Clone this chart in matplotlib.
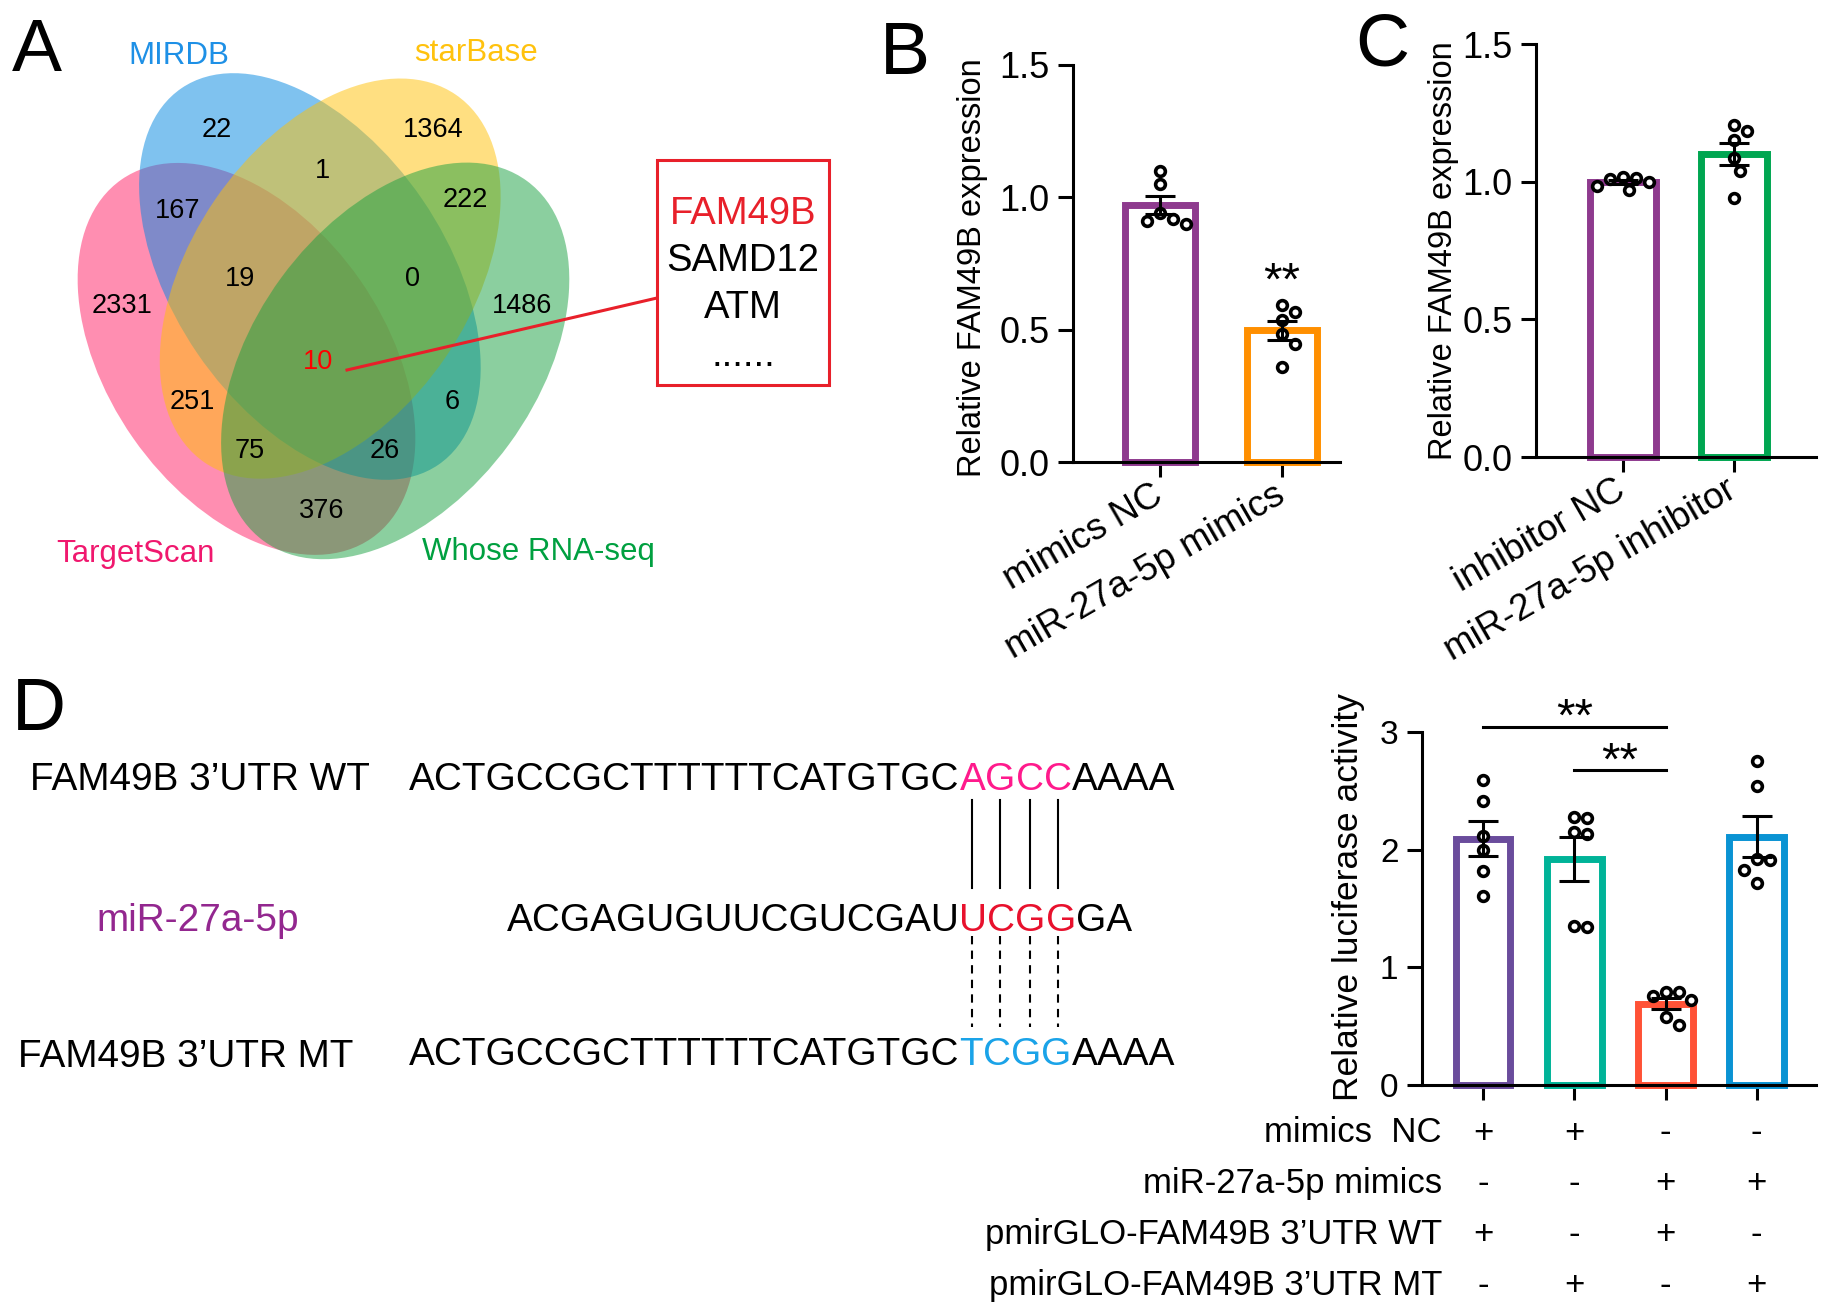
import numpy as np
import matplotlib
matplotlib.use("Agg")
import matplotlib.pyplot as plt
from matplotlib.patches import Ellipse, Rectangle
import matplotlib.transforms as mtransforms

W, H = 1831, 1315
plt.rcParams['font.family'] = 'Liberation Sans'

# ---- panel A data
venn_sets = ['TargetScan', 'MIRDB', 'starBase', 'Whose RNA-seq']
venn_counts = [2331, 22, 1364, 1486, 167, 1, 222, 376, 19, 0, 10, 251, 6, 75, 26]
hit_genes = ['FAM49B', 'SAMD12', 'ATM', '......']

# ---- panel B / C data (relative FAM49B expression, n = 6)
b_groups = ['mimics NC', 'miR-27a-5p mimics']
b_nc = [1.10, 1.05, 0.94, 0.92, 0.91, 0.90]
b_mimic = [0.595, 0.565, 0.535, 0.485, 0.445, 0.36]
c_groups = ['inhibitor NC', 'miR-27a-5p inhibitor']
c_nc = [1.012, 1.010, 1.017, 1.000, 0.985, 0.970]
c_inh = [1.205, 1.185, 1.15, 1.085, 1.04, 0.94]

# ---- panel D data (relative luciferase activity)
d_wt_nc = [2.59, 2.41, 2.12, 2.00, 1.82, 1.61]
d_mt_nc = [2.27, 2.28, 2.15, 2.13, 1.35, 1.34]
d_wt_mir = [0.79, 0.76, 0.72, 0.79, 0.58, 0.51]
d_mt_mir = [2.75, 2.54, 1.92, 1.91, 1.83, 1.72]
d_rows = ['mimics  NC', 'miR-27a-5p mimics', 'pmirGLO-FAM49B 3\u2019UTR WT', 'pmirGLO-FAM49B 3\u2019UTR MT']
d_signs = [['+', '+', '-', '-'], ['-', '-', '+', '+'], ['+', '-', '+', '-'], ['-', '+', '-', '+']]

# ---- sequences (prefix, paired seed, suffix)
wt_seq = ('ACTGCCGCTTTTTTCATGTGC', 'AGCC', 'AAAA')
mir_seq = ('ACGAGUGUUCGUCGAU', 'UCGG', 'GA')
mt_seq = ('ACTGCCGCTTTTTTCATGTGC', 'TCGG', 'AAAA')

fig = plt.figure(figsize=(W / 100, H / 100), dpi=100)
# background axes in pixel units (y down) for the Venn, text and sequences
bg = fig.add_axes([0, 0, 1, 1])
bg.set_xlim(0, W)
bg.set_ylim(H, 0)
bg.axis('off')


def px_text(x, y, s, size, **kw):
    # centre text on the cap height rather than the line box
    return bg.text(x, y + 0.36 * size * 100 / 72, s, fontsize=size, va='baseline', **kw)


# ---------------- A: Venn (pink=TargetScan, blue=MIRDB, yellow=starBase, green=RNA-seq)
ellipses = [((246.5, 358.9), 218.6, 138.3, -124.9, '#FF1E64'),
            ((309.9, 276.5), 227.9, 136.3, -124.3, '#0087E1'),
            ((330.2, 278.6), 222.7, 139.6, -55.7, '#FFC105'),
            ((395.2, 360.9), 223.0, 141.1, -53.8, '#19A141')]
for c, a, b, ang, col in ellipses:
    bg.add_patch(Ellipse(c, 2 * a, 2 * b, angle=ang, facecolor=col, alpha=0.5,
                         edgecolor='none', zorder=1))

count_pos = [(122, 303), (217, 127), (433, 127), (522, 303), (178, 208), (323, 168), (465, 197),
             (322, 508), (240, 276), (413, 276), (318, 359), (192, 399), (452, 399), (250, 448), (385, 448)]
for n, (x, y) in zip(venn_counts, count_pos):
    px_text(x, y, str(n), 19.5, ha='center', color='red' if n == 10 else 'black', zorder=3)

label_pos = [(135, 551), (179, 53), (476, 50), (538, 549)]
label_col = ['#F0186E', '#1E90E6', '#FFC20E', '#00A040']
for s, (x, y), col in zip(venn_sets, label_pos, label_col):
    px_text(x, y, s, 22.5, ha='center', color=col)

red = '#E8202A'
bg.plot([347, 657], [370, 298], color=red, lw=2.2, zorder=3)
bg.add_patch(Rectangle((657, 160), 172, 225, fill=False, edgecolor=red, lw=2.2, zorder=3))
for i, g in enumerate(hit_genes):
    px_text(743, 210 + 47.3 * i, g, 27.5, ha='center', color=red if i == 0 else 'black')

# panel letters
for s, (x, y) in zip('ABCD', [(12, 44), (880, 47), (1355, 38), (12, 703)]):
    px_text(x, y, s, 54, ha='left')


# ---------------- bar panels
def rect(x0, y0, x1, y1):
    return [x0 / W, 1 - y1 / H, (x1 - x0) / W, (y1 - y0) / H]


def swarm(vals, ppu_x, ppu_y, d=13):
    ys = np.asarray(vals, float) * ppu_y
    placed, offs = [], np.zeros(len(ys))
    steps = [0] + [s * k for k in range(1, 8) for s in (1, -1)]
    for i in np.argsort(-ys):
        for k in steps:
            x = k * d / 2
            if all((x - qx) ** 2 + (ys[i] - qy) ** 2 >= d * d for qx, qy in placed):
                break
        placed.append((x, ys[i]))
        offs[i] = x / ppu_x
    return offs


def style(ax, top, ticks, fmt, size):
    ax.set_facecolor('none')
    for s in ('top', 'right'):
        ax.spines[s].set_visible(False)
    for s in ('left', 'bottom'):
        ax.spines[s].set_linewidth(2.2)
    ax.set_ylim(0, top)
    ax.set_yticks(ticks)
    ax.set_yticklabels([fmt.format(t) for t in ticks])
    ax.tick_params(length=11, width=2.2, labelsize=size, pad=6)


def bars(ax, groups, colors, width, ppu_x, ppu_y):
    for i, (vals, col) in enumerate(zip(groups, colors)):
        v = np.asarray(vals)
        m, se = v.mean(), v.std(ddof=1) / np.sqrt(len(v))
        ax.bar(i, m, width, color='white', edgecolor=col, linewidth=5, zorder=2, clip_on=False)
        ax.plot(i + swarm(v, ppu_x, ppu_y), v, 'o', ms=7, mfc='white', mec='black', mew=2.6,
                zorder=3, clip_on=False)
        ax.errorbar(i, m, yerr=se, fmt='none', ecolor='black', elinewidth=2.2, capsize=11,
                    capthick=2.2, zorder=4)


def ylab(x, y, s, size):
    bg.text(x, y, s, fontsize=size, rotation=90, ha='center', va='center')


# B
ax_b = fig.add_axes(rect(1073, 65, 1340, 462))
style(ax_b, 1.5, [0, 0.5, 1.0, 1.5], '{:.1f}', 26)
ax_b.set_xlim(-0.713, 1.475)
bars(ax_b, [b_nc, b_mimic], ['#8E3A8E', '#FF8F00'], 0.58, 122, 264.7)
ax_b.set_xticks([0, 1])
ax_b.set_xticklabels(b_groups, rotation=30, ha='right', va='center', rotation_mode='anchor', fontsize=26.5)
ax_b.tick_params(axis='x', pad=11)
ylab(973, 268, 'Relative FAM49B expression', 23.5)
bg.text(1282, 271 + 24, '**', fontsize=34, ha='center', va='baseline')

# C
ax_c = fig.add_axes(rect(1536, 44, 1816, 457))
style(ax_c, 1.5, [0, 0.5, 1.0, 1.5], '{:.1f}', 26)
ax_c.set_xlim(-0.784, 1.74)
bars(ax_c, [c_nc, c_inh], ['#8E3A8E', '#00A651'], 0.6, 111, 275.3)
ax_c.set_xticks([0, 1])
ax_c.set_xticklabels(c_groups, rotation=30, ha='right', va='center', rotation_mode='anchor', fontsize=26.5)
ax_c.tick_params(axis='x', pad=11)
ylab(1444, 251, 'Relative FAM49B expression', 23.5)

# D bars
ax_d = fig.add_axes(rect(1422, 732, 1816, 1085))
style(ax_d, 3, [0, 1, 2, 3], '{:d}', 24)
ax_d.set_xlim(-0.67, 3.65)
bars(ax_d, [d_wt_nc, d_mt_nc, d_wt_mir, d_mt_mir], ['#6A4C9C', '#00B398', '#FF5236', '#0A93D3'],
     0.6, 91.3, 117.7)
ax_d.set_xticks(range(4))
ax_d.set_xticklabels([])
ylab(1349, 897, 'Relative luciferase activity', 25.5)

for (x0, x1, y, ys) in [(0, 2, 3.04, 3.21), (1, 2, 2.68, 2.84)]:
    ax_d.plot([x0, x1], [y, y], color='black', lw=2.2, clip_on=False)
    ax_d.text((x0 + x1) / 2, ys - 0.2, '**', fontsize=34, ha='center', va='baseline')

tr = mtransforms.blended_transform_factory(ax_d.transData, bg.transData)
for r, (lab, signs) in enumerate(zip(d_rows, d_signs)):
    y = 1130 + 50.7 * r
    px_text(1442, y, lab, 25, ha='right')
    for i, s in enumerate(signs):
        ax_d.text(i, y + 0.36 * 25 * 100 / 72, s, transform=tr, fontsize=25, ha='center', va='baseline')

# ---------------- D: sequences
renderer = fig.canvas.get_renderer()
SEQ = 27.9


def run(x, y, parts):
    # draw text pieces left to right, return (x0, x1) of every piece
    spans = []
    for s, col in parts:
        t = px_text(x, y, s, SEQ, ha='left', color=col)
        w = t.get_window_extent(renderer).width
        spans.append((x, x + w))
        x += w
    return spans


pink, redc, blue = '#FF1A8C', '#E8112D', '#1AA3E8'
px_text(30, 776, 'FAM49B 3\u2019UTR WT', SEQ, ha='left')
px_text(96, 917, 'miR-27a-5p', SEQ, ha='left', color='#93278F')
px_text(18, 1053, 'FAM49B 3\u2019UTR MT', SEQ, ha='left')

wt = run(409, 776, [(wt_seq[0], 'black')] + [(ch, pink) for ch in wt_seq[1]] + [(wt_seq[2], 'black')])
run(409, 1051, [(mt_seq[0], 'black')] + [(ch, blue) for ch in mt_seq[1]] + [(mt_seq[2], 'black')])
seed_x0 = wt[1][0]
px_text(seed_x0, 917, mir_seq[0], SEQ, ha='right')
run(seed_x0, 917, [(ch, redc) for ch in mir_seq[1]] + [(mir_seq[2], 'black')])

for x0, x1 in wt[1:5]:
    xc = (x0 + x1) / 2
    bg.plot([xc, xc], [800, 888], color='black', lw=1.5)
    bg.plot([xc, xc], [936, 1027], color='black', lw=1.5, ls=(0, (4, 3)))

fig.savefig('out.png', dpi=100)
